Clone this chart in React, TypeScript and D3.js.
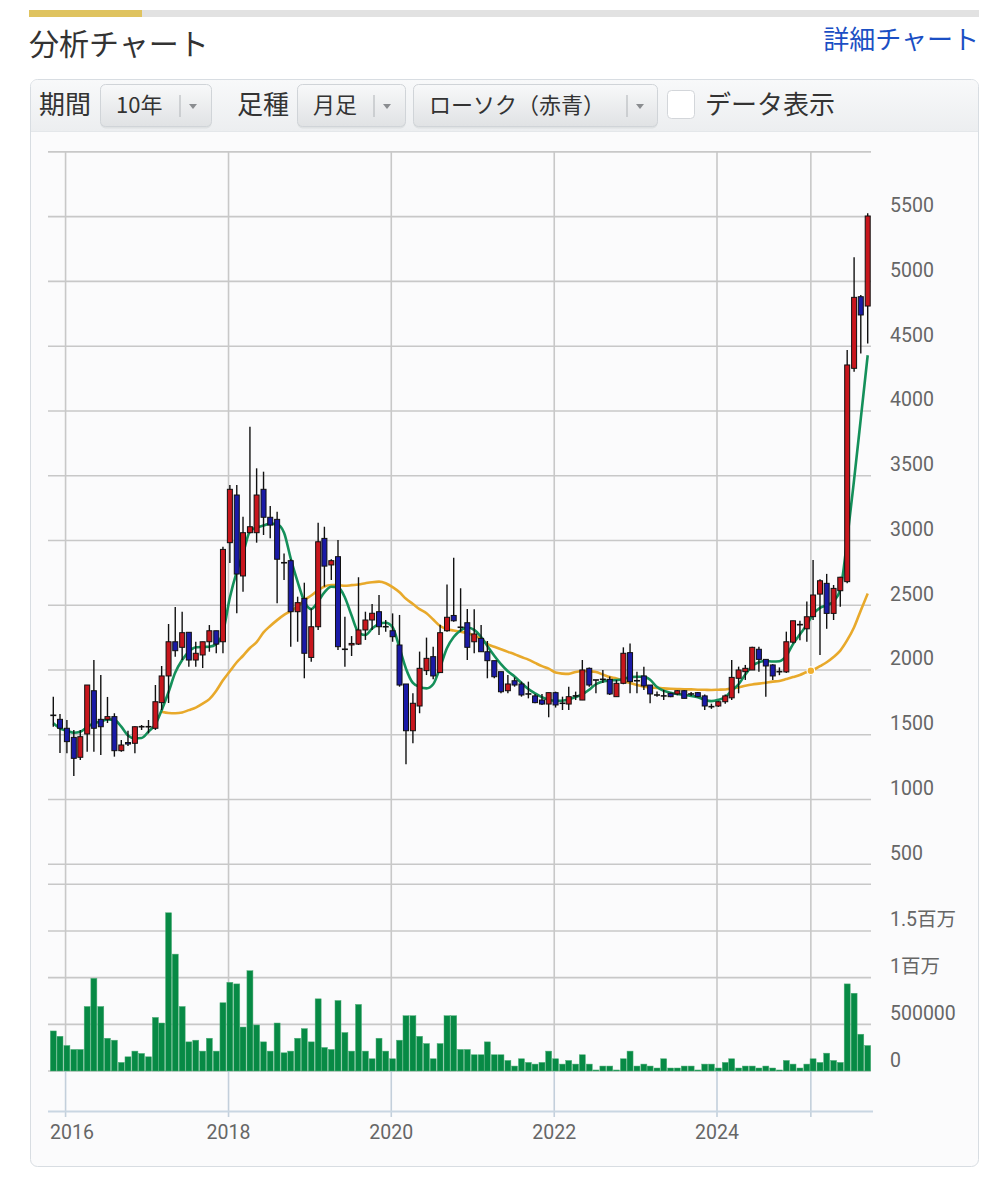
import React from 'react';
import * as d3 from 'd3';

// Monthly candles, Nov 2015 .. Nov 2025
const startYear = 2015;
const startMonth = 10; // November (0-based)

const openP = [
  1650, 1619, 1550, 1480, 1326, 1506, 1840, 1619, 1619, 1640,
  1377, 1440, 1434, 1562, 1562, 1550, 1748, 1954, 2218, 2175,
  2291, 2077, 2116, 2218, 2303, 2218, 2983, 3351, 2726, 3060,
  3060, 3395, 3179, 3163, 2828, 2844, 2450, 2553, 2097, 2334,
  3016, 2811, 2875, 2160, 2195, 2200, 2309, 2386, 2450, 2334,
  2303, 2193, 1892, 1531, 1722, 1995, 2103, 1980, 2303, 2421,
  2330, 2365, 2218, 2244, 2141, 2072, 1987, 1840, 1917, 1892,
  1815, 1800, 1768, 1737, 1825, 1743, 1737, 1800, 1768, 2013,
  1923, 1928, 1928, 1794, 1897, 2134, 1917, 1954, 1884, 1807,
  1800, 1820, 1815, 1840, 1815, 1825, 1800, 1717, 1722, 1755,
  1785, 1936, 1987, 2000, 2160, 2082, 2039, 1987, 1985, 2215,
  2350, 2318, 2412, 2586, 2669, 2437, 2612, 2682, 4329, 4882, 4810,
];
const highP = [
  1794, 1660, 1614, 1537, 1537, 1884, 2077, 1961, 1792, 1666,
  1460, 1531, 1565, 1575, 1614, 1884, 2031, 2355, 2486, 2450,
  2291, 2218, 2218, 2347, 2303, 2952, 3428, 3428, 3183, 3878,
  3557, 3531, 3266, 3222, 2900, 2855, 2566, 2674, 2476, 3137,
  3106, 2855, 3004, 2411, 2262, 2716, 2450, 2510, 2579, 2386,
  2437, 2425, 1892, 1820, 2142, 2250, 2180, 2350, 2660, 2866,
  2631, 2470, 2469, 2347, 2224, 2072, 1987, 1961, 1943, 1910,
  1910, 1815, 1815, 1825, 1833, 1794, 1871, 1833, 2077, 2020,
  1923, 2000, 1950, 1923, 2175, 2205, 1987, 2026, 1884, 1833,
  1846, 1825, 1845, 1845, 1830, 1830, 1810, 1740, 1760, 1810,
  2077, 2026, 2039, 2180, 2180, 2082, 2045, 2020, 2296, 2380,
  2380, 2528, 2850, 2700, 2742, 2656, 2720, 4471, 5186, 4895, 5526,
];
const lowP = [
  1562, 1359, 1357, 1182, 1305, 1369, 1369, 1344, 1591, 1331,
  1369, 1413, 1357, 1537, 1511, 1537, 1691, 1745, 2103, 2077,
  2026, 2026, 2015, 2141, 2130, 2129, 2826, 2438, 2604, 3055,
  2983, 3042, 3017, 2515, 2695, 2180, 2218, 1936, 2064, 2309,
  2643, 2695, 2154, 2026, 2108, 2193, 2232, 2309, 2270, 2296,
  2218, 1871, 1273, 1434, 1666, 1961, 1928, 1977, 2296, 2373,
  2296, 2077, 2129, 2141, 1936, 1936, 1820, 1820, 1871, 1794,
  1781, 1743, 1730, 1635, 1710, 1691, 1691, 1768, 1768, 1871,
  1820, 1900, 1807, 1794, 1890, 1820, 1820, 1845, 1743, 1794,
  1768, 1790, 1805, 1781, 1800, 1790, 1691, 1700, 1715, 1740,
  1768, 1820, 1923, 2000, 1987, 1794, 1923, 1960, 1977, 2205,
  2230, 2218, 2386, 2116, 2318, 2386, 2489, 2669, 4303, 4444, 4521,
];
const closeP = [
  1650, 1550, 1447, 1318, 1485, 1884, 1550, 1562, 1640, 1377,
  1421, 1430, 1562, 1562, 1562, 1755, 1954, 2218, 2149, 2288,
  2077, 2129, 2218, 2303, 2200, 2931, 3395, 2741, 3060, 3106,
  3351, 3179, 3119, 2855, 2828, 2450, 2520, 2129, 2334, 2990,
  2802, 2844, 2180, 2160, 2205, 2309, 2386, 2438, 2334, 2334,
  2257, 1884, 1531, 1743, 2013, 2090, 1954, 2288, 2407, 2380,
  2330, 2175, 2278, 2141, 2072, 1948, 1832, 1892, 1884, 1807,
  1815, 1748, 1737, 1825, 1730, 1743, 1794, 1800, 2000, 1884,
  1923, 1928, 1815, 1897, 2129, 1910, 1917, 1877, 1815, 1807,
  1800, 1794, 1840, 1781, 1815, 1794, 1722, 1717, 1755, 1800,
  1943, 2000, 2013, 2175, 2082, 2031, 1954, 1987, 2218, 2380,
  2350, 2411, 2579, 2689, 2437, 2630, 2716, 4355, 4877, 4741, 5505,
];
// volume, thousands of shares
const volumeK = [
  429, 372, 273, 231, 231, 691, 993, 691, 351, 330,
  92, 152, 213, 188, 152, 574, 514, 1695, 1252, 691,
  312, 330, 213, 351, 213, 731, 950, 933, 471, 1074,
  493, 312, 213, 514, 195, 213, 351, 454, 312, 773,
  252, 231, 755, 412, 213, 713, 213, 131, 351, 213,
  131, 330, 592, 592, 372, 294, 131, 294, 592, 592,
  231, 231, 174, 174, 312, 174, 174, 113, 53, 131,
  92, 74, 92, 213, 131, 74, 113, 74, 174, 74,
  11, 53, 53, 11, 131, 213, 53, 74, 53, 32,
  131, 32, 32, 53, 53, 11, 74, 74, 32, 92,
  131, 32, 53, 53, 32, 53, 32, 11, 113, 74,
  32, 74, 131, 92, 191, 113, 92, 933, 833, 394, 273,
];
// short moving average (green)
const maShort = [
  1589, 1550, 1531, 1516, 1524, 1560, 1589, 1601, 1619, 1615,
  1562, 1495, 1473, 1475, 1524, 1580, 1690, 1830, 1980, 2077,
  2141, 2175, 2178, 2180, 2200, 2290, 2560, 2760, 2900, 3070,
  3100, 3115, 3130, 3125, 3060, 2860, 2680, 2530, 2470, 2530,
  2600, 2643, 2640, 2560, 2420, 2290, 2270, 2320, 2355, 2365,
  2330, 2170, 2010, 1900, 1870, 1858, 1890, 2020, 2170, 2255,
  2305, 2328, 2310, 2255, 2185, 2110, 2045, 1990, 1950, 1900,
  1853, 1820, 1790, 1770, 1763, 1763, 1772, 1792, 1812, 1848,
  1890, 1912, 1920, 1922, 1930, 1945, 1948, 1948, 1925, 1868,
  1840, 1825, 1815, 1808, 1800, 1790, 1770, 1760, 1770, 1790,
  1840, 1890, 1965, 2030, 2060, 2070, 2065, 2068, 2110, 2200,
  2275, 2350, 2430, 2480, 2500, 2530, 2620, 3010, 3470, 3940, 4430,
];
// long moving average (orange), starts at the 17th candle
const maLong = [
  null, null, null, null, null, null, null, null, null, null,
  null, null, null, null, null, null, 1678, 1668, 1666, 1672,
  1690, 1710, 1740, 1775, 1840, 1920, 1990, 2060, 2110, 2170,
  2215, 2290, 2340, 2385, 2425, 2455, 2490, 2540, 2575, 2615,
  2645, 2656, 2656, 2650, 2655, 2660, 2670, 2678, 2682, 2670,
  2640, 2600, 2550, 2510, 2470, 2438, 2390, 2340, 2315, 2305,
  2295, 2285, 2265, 2240, 2200, 2180, 2160, 2140, 2122, 2100,
  2080, 2055, 2030, 2010, 1980, 1972, 1970, 1985, 1992, 1990,
  1985, 1965, 1945, 1935, 1915, 1900, 1885, 1870, 1865, 1862,
  1858, 1855, 1853, 1851, 1850, 1848, 1847, 1846, 1848, 1850,
  1858, 1866, 1878, 1888, 1895, 1902, 1910, 1915, 1930, 1945,
  1962, 1985, 2000, 2030, 2060, 2100, 2150, 2230, 2330, 2460, 2590,
];

const yearTicks = [2016, 2018, 2020, 2022, 2024];
const markerDate = new Date(2025, 1, 25);
const priceGrid = [500, 1000, 1500, 2000, 2500, 3000, 3500, 4000, 4500, 5000, 5500, 6000];
const priceLabels = [500, 1000, 1500, 2000, 2500, 3000, 3500, 4000, 4500, 5000, 5500];
const volGrid = [0, 500000, 1000000, 1500000, 2000000];
const volLabelValues = [0, 500000, 1000000, 1500000];
const volLabelTexts = ['0', '500000', '1百万', '1.5百万'];

const JP = "'Noto Sans CJK JP', 'Noto Sans', sans-serif";
const NUM = "Roboto, 'Noto Sans CJK JP', sans-serif";

function Dropdown({ x, w, label, sepX }: { x: number; w: number; label: string; sepX: number }) {
  return (
    <g>
      <rect x={x + 0.5} y={85.5} width={w} height={43} rx={5} fill="#d5d8db" opacity={0.6} />
      <rect x={x + 0.5} y={84.5} width={w} height={42} rx={5} fill="url(#ddGrad)" stroke="#d0d4d8" />
      <text x={x + 16} y={113} fontFamily={JP} fontSize={22} fill="#333">{label}</text>
      <line x1={sepX} x2={sepX} y1={95} y2={117} stroke="#b9bcc0" strokeWidth={1.2} />
      <path d={`M${sepX + 9},${104} l8,0 l-4,5 z`} fill="#8a8d90" />
    </g>
  );
}

export default function App() {
  const n = openP.length;
  const dates = d3.range(n).map((i) => new Date(startYear, startMonth + i, 7));
  const x = d3.scaleTime().domain([dates[0], dates[n - 1]]).range([53.3, 867.7]);
  const y = d3.scaleLinear().domain([0, 6000]).range([929.04, 151.9]);
  const yv = d3.scaleLinear().domain([0, 2000000]).range([1071, 884.3]);

  const gridLeft = 48;
  const gridRight = 871;
  const bodyW = 5;
  const barW = 6;

  const lineShort = d3
    .line<number>()
    .x((_, i) => x(dates[i]))
    .y((d) => y(d))
    .curve(d3.curveMonotoneX);
  const lineLong = d3
    .line<number | null>()
    .defined((d) => d !== null)
    .x((_, i) => x(dates[i]))
    .y((d) => y(d as number))
    .curve(d3.curveMonotoneX);

  const mx = x(markerDate);
  const bis = d3.bisector((d: Date) => d).right(dates, markerDate);
  const t = (markerDate.getTime() - dates[bis - 1].getTime()) / (dates[bis].getTime() - dates[bis - 1].getTime());
  const my = y((maLong[bis - 1] as number) * (1 - t) + (maLong[bis] as number) * t);

  const vLines = [...yearTicks.map((yr) => x(new Date(yr, 0, 1))), mx];

  return (
    <svg width={1008} height={1198} style={{ position: 'absolute', left: 0, top: 0, background: '#fff' }}>
      <defs>
        <linearGradient id="hdrGrad" x1="0" y1="0" x2="0" y2="1">
          <stop offset="0" stopColor="#f8f9fa" />
          <stop offset="1" stopColor="#eceef0" />
        </linearGradient>
        <linearGradient id="ddGrad" x1="0" y1="0" x2="0" y2="1">
          <stop offset="0" stopColor="#f8f9fa" />
          <stop offset="1" stopColor="#e0e2e4" />
        </linearGradient>
      </defs>

      {/* top progress bar */}
      <rect x={29} y={10} width={950} height={7} fill="#e2e2e2" />
      <rect x={29} y={10} width={113} height={7} fill="#dfc35f" />

      <text x={29} y={55} fontFamily={JP} fontSize={30} fill="#333">分析チャート</text>
      <text x={979} y={49} textAnchor="end" fontFamily={JP} fontSize={26} fill="#1b4fc4">詳細チャート</text>

      {/* card */}
      <rect x={30.5} y={79.5} width={948} height={1087} rx={7} fill="#fbfbfc" stroke="#d8dde2" />
      <path d="M31,131 L31,87 Q31,80 38,80 L971,80 Q978,80 978,87 L978,131 Z" fill="url(#hdrGrad)" />
      <line x1={31} x2={978} y1={131.5} y2={131.5} stroke="#e4e7ea" />

      <text x={39} y={114} fontFamily={JP} fontSize={26} fill="#333">期間</text>
      <Dropdown x={100} w={111} label="10年" sepX={180} />
      <text x={237} y={114} fontFamily={JP} fontSize={26} fill="#333">足種</text>
      <Dropdown x={297} w={108} label="月足" sepX={374} />
      <Dropdown x={413} w={244} label="ローソク（赤青）" sepX={627} />
      <rect x={667.5} y={90.5} width={27} height={28} rx={4} fill="#fff" stroke="#d3d6da" />
      <text x={705} y={114} fontFamily={JP} fontSize={26} fill="#333">データ表示</text>

      {/* horizontal grid: price */}
      {priceGrid.map((p) => (
        <line key={'pg' + p} x1={gridLeft} x2={gridRight} y1={y(p)} y2={y(p)} stroke="#c8c8c8" strokeWidth={1.6} />
      ))}
      {/* horizontal grid: volume */}
      {volGrid.map((v) => (
        <line key={'vg' + v} x1={gridLeft} x2={gridRight} y1={yv(v)} y2={yv(v)} stroke="#c8c8c8" strokeWidth={1.6} />
      ))}
      {/* vertical grid */}
      {vLines.map((vx, i) => (
        <g key={'vl' + i}>
          <line x1={vx} x2={vx} y1={151} y2={1071} stroke="#c8c8c8" strokeWidth={1.6} />
          <line x1={vx} x2={vx} y1={1071} y2={1117} stroke="#c3cfdb" strokeWidth={1.6} />
        </g>
      ))}
      {/* bottom axis line */}
      <line x1={gridLeft} x2={gridRight + 2} y1={1111.5} y2={1111.5} stroke="#c9d6e2" strokeWidth={2} />

      {/* volume bars */}
      {volumeK.map((v, i) => (
        <rect
          key={'v' + i}
          x={x(dates[i]) - barW / 2}
          y={yv(v * 1000)}
          width={barW}
          height={yv(0) - yv(v * 1000)}
          fill="#078a45"
          stroke="#4fae78"
          strokeWidth={0.5}
        />
      ))}

      {/* moving averages */}
      <path d={lineLong(maLong) || ''} fill="none" stroke="#e8a92b" strokeWidth={2.6} />
      <path d={lineShort(maShort) || ''} fill="none" stroke="#14905a" strokeWidth={2.6} />
      <circle cx={mx} cy={my} r={3.8} fill="#f0b030" stroke="#fff" strokeWidth={1.2} />

      {/* candles */}
      {openP.map((o, i) => {
        const c = closeP[i];
        const cx = x(dates[i]);
        const up = c > o;
        const down = c < o;
        const top = y(Math.max(o, c));
        const bot = y(Math.min(o, c));
        return (
          <g key={'c' + i}>
            <line x1={cx} x2={cx} y1={y(highP[i])} y2={y(lowP[i])} stroke="#111" strokeWidth={1.4} />
            {up || down ? (
              <rect
                x={cx - bodyW / 2}
                y={top}
                width={bodyW}
                height={Math.max(bot - top, 1.5)}
                fill={up ? '#c8161d' : '#1a1aa6'}
                stroke="#111"
                strokeWidth={1}
              />
            ) : (
              <line x1={cx - bodyW / 2 - 0.5} x2={cx + bodyW / 2 + 0.5} y1={top} y2={top} stroke="#111" strokeWidth={1.6} />
            )}
          </g>
        );
      })}

      {/* price labels */}
      {priceLabels.map((p) => (
        <text key={'pl' + p} x={890} y={y(p) - 4.5} fontFamily={NUM} fontSize={19.5} fill="#666">
          {p}
        </text>
      ))}
      {/* volume labels */}
      {volLabelValues.map((v, i) => (
        <text key={'vlab' + v} x={890} y={yv(v) - 4.5} fontFamily={NUM} fontSize={19.5} fill="#666">
          {volLabelTexts[i]}
        </text>
      ))}
      {/* year labels */}
      {yearTicks.map((yr) => {
        const gx = x(new Date(yr, 0, 1));
        return (
          <text key={'yl' + yr} x={Math.max(gx, 72)} y={1139} textAnchor="middle" fontFamily={NUM} fontSize={19.5} fill="#666">
            {yr}
          </text>
        );
      })}
    </svg>
  );
}
